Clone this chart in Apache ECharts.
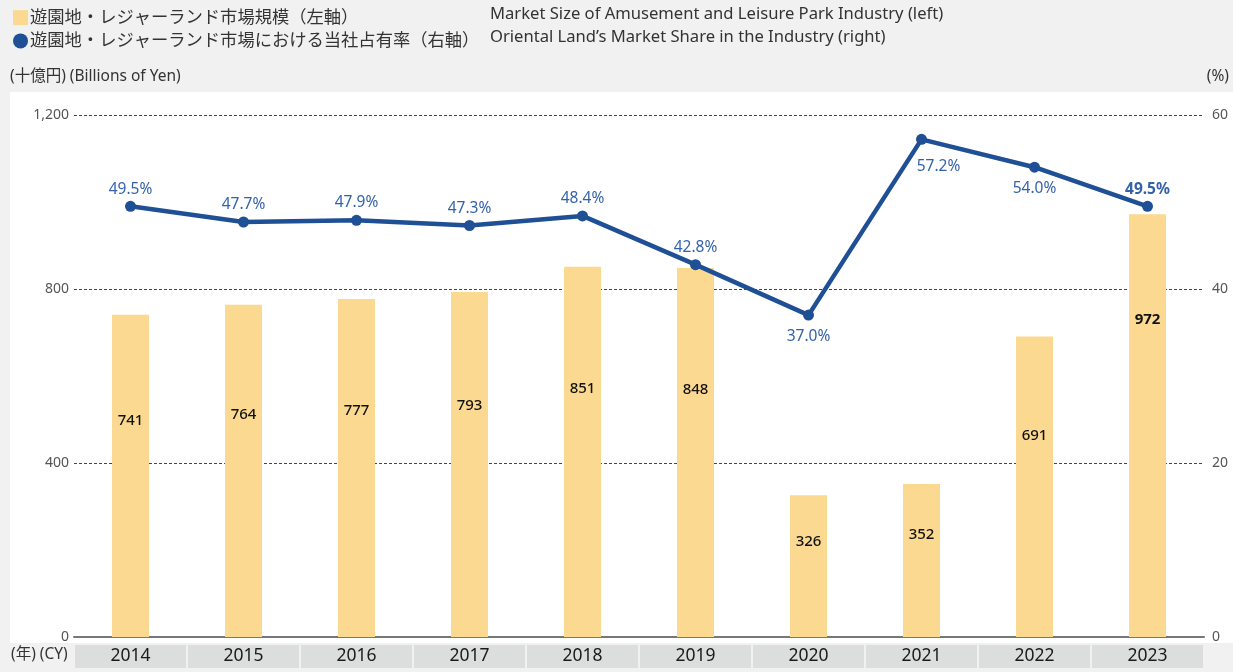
<!DOCTYPE html>
<html>
<head>
<meta charset="utf-8">
<script src="https://cdn.jsdelivr.net/npm/echarts@6/dist/echarts.min.js"></script>
<style>
  html, body { margin: 0; padding: 0; background: #f0f1f0; }
  #chart { width: 1233px; height: 672px; }
</style>
</head>
<body>
<div id="chart"></div>
<script>
// データ
var years = ['2014', '2015', '2016', '2017', '2018', '2019', '2020', '2021', '2022', '2023']
var marketSize = [741, 764, 777, 793, 851, 848, 326, 352, 691, 972]
var shareRate = [49.5, 47.7, 47.9, 47.3, 48.4, 42.8, 37.0, 57.2, 54.0, 49.5]
var leftTicks = [0, 400, 800, 1200]
var rightTicks = [0, 20, 40, 60]

var barName = '遊園地・レジャーランド市場規模（左軸）'
var lineName = '遊園地・レジャーランド市場における当社占有率（右軸）'
var FONT = '"Noto Sans", "Noto Sans CJK JP", sans-serif'
var last = years.length - 1
var belowLabel = [6, 7, 8] // 2020〜2022 はラベルを点の下に

var barData = marketSize.map(function (v, i) {
  if (i !== last) return v
  return { value: v, label: { fontWeight: 'bold', position: ['50%', '25%'] } }
})

var lineData = shareRate.map(function (v, i) {
  var item = { value: v }
  if (belowLabel.indexOf(i) >= 0) {
    item.label = { position: 'bottom', distance: 8 }
    if (i === 7) item.label.offset = [17, 6]
  }
  if (i === last) item.label = { fontWeight: 'bold' }
  return item
})

var chart = echarts.init(document.getElementById('chart'))
chart.setOption({
  backgroundColor: '#f0f1f0',
  textStyle: { fontFamily: FONT },
  animation: false,
  legend: {
    orient: 'vertical',
    left: 8,
    top: 4,
    itemWidth: 15,
    itemHeight: 15,
    itemGap: 6,
    textStyle: { fontSize: 17.3, color: '#333', fontFamily: FONT, padding: [0, 0, 0, -3] },
    data: [
      { name: barName, icon: 'rect' },
      { name: lineName, icon: 'circle' }
    ]
  },
  grid: { left: 74, right: 29, top: 115, bottom: 35, containLabel: false },
  graphic: [
    { type: 'rect', z: -10, silent: true, shape: { x: 10, y: 92, width: 1223, height: 551 }, style: { fill: '#ffffff' } },
    { type: 'text', left: 490, top: 6, style: { text: 'Market Size of Amusement and Leisure Park Industry (left)', fontSize: 16.6, fill: '#333', fontFamily: FONT } },
    { type: 'text', left: 490, top: 29, style: { text: 'Oriental Land\u2019s Market Share in the Industry (right)', fontSize: 16.6, fill: '#333', fontFamily: FONT } },
    { type: 'text', left: 10, top: 69, style: { text: '(十億円) (Billions of Yen)', fontSize: 15.5, fill: '#333', fontFamily: FONT } },
    { type: 'text', right: 4, top: 69, style: { text: '(%)', fontSize: 15.5, fill: '#333', fontFamily: FONT } },
    { type: 'text', left: 11, top: 647, style: { text: '(年) (CY)', fontSize: 15.5, fill: '#333', fontFamily: FONT } }
  ],
  xAxis: {
    type: 'category',
    data: years,
    axisTick: { show: false },
    axisLine: { lineStyle: { color: '#777', width: 2 } },
    axisLabel: {
      margin: 8,
      width: 111,
      height: 23,
      lineHeight: 23,
      align: 'center',
      backgroundColor: '#dcdddd',
      fontSize: 17.5,
      color: '#1a1a1a',
      fontFamily: FONT
    }
  },
  yAxis: [
    {
      type: 'value',
      min: leftTicks[0],
      max: leftTicks[leftTicks.length - 1],
      interval: leftTicks[1] - leftTicks[0],
      axisLine: { show: false },
      axisTick: { show: false },
      axisLabel: { margin: 5, fontSize: 14, color: '#555', fontFamily: FONT },
      splitLine: { lineStyle: { color: '#444', type: [3, 2], width: 1 } }
    },
    {
      type: 'value',
      min: rightTicks[0],
      max: rightTicks[rightTicks.length - 1],
      interval: rightTicks[1] - rightTicks[0],
      axisLine: { show: false },
      axisTick: { show: false },
      axisLabel: { margin: 8, fontSize: 14, color: '#555', fontFamily: FONT },
      splitLine: { show: false }
    }
  ],
  series: [
    {
      name: barName,
      type: 'bar',
      data: barData,
      barWidth: 37,
      itemStyle: { color: '#fcd990' },
      label: {
        show: true,
        position: ['50%', '33%'],
        align: 'center',
        verticalAlign: 'middle',
        fontSize: 15,
        fontWeight: 500,
        color: '#111',
        fontFamily: FONT
      }
    },
    {
      name: lineName,
      type: 'line',
      yAxisIndex: 1,
      data: lineData,
      z: 5,
      symbol: 'circle',
      symbolSize: 11,
      lineStyle: { color: '#1f4f95', width: 4.5 },
      itemStyle: { color: '#1f4f95' },
      label: {
        show: true,
        position: 'top',
        distance: 4,
        fontSize: 15.5,
        color: '#3462aa',
        fontFamily: FONT,
        formatter: function (p) { return p.value.toFixed(1) + '%' }
      }
    }
  ]
})
</script>
</body>
</html>
